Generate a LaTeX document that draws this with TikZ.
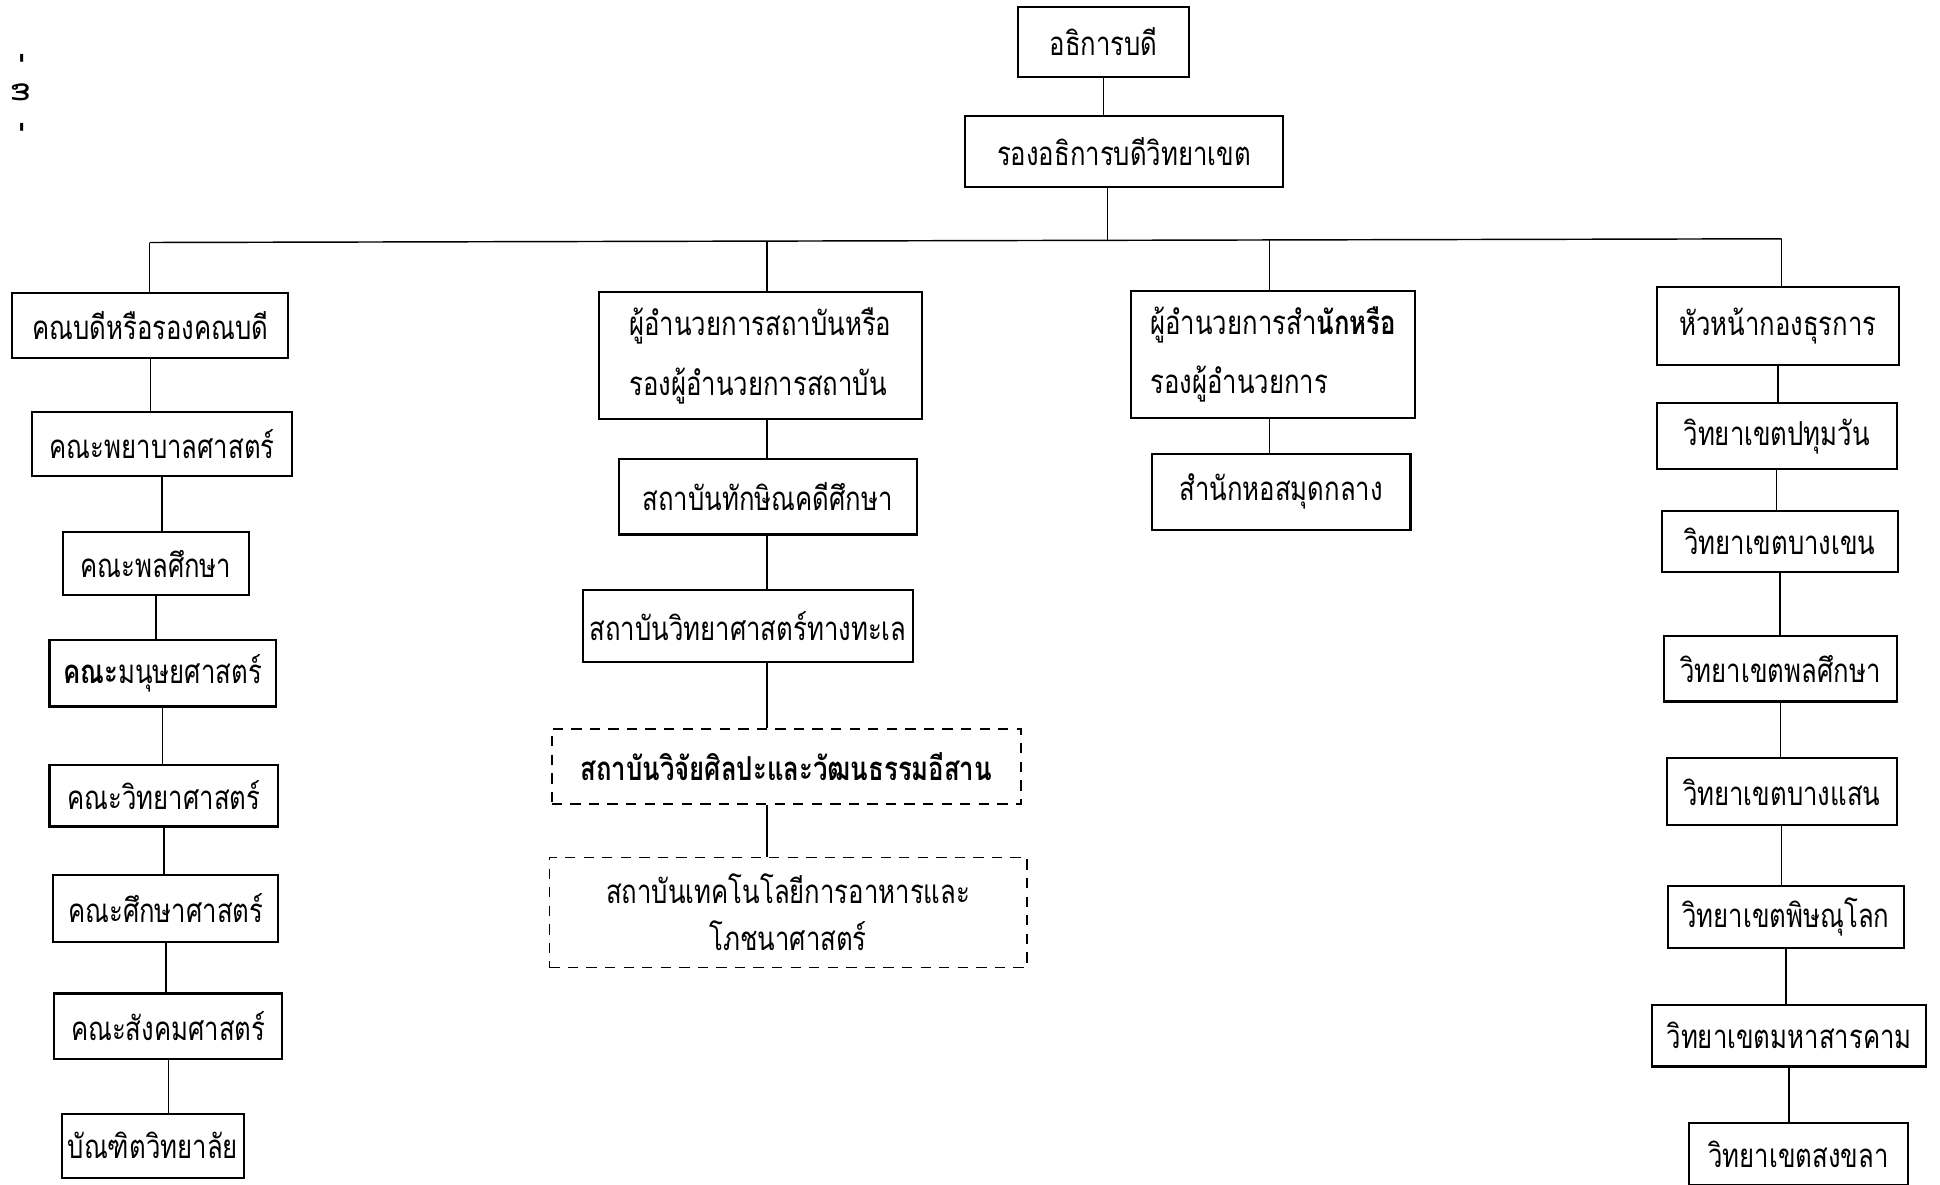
\documentclass[tikz,border=0pt]{standalone}
\usepackage{fontspec}
\setmainfont[Script=Thai,FakeStretch=0.78]{Loma}

\begin{document}
\begin{tikzpicture}[x=0.6pt,y=-0.6pt,
   poste/.style 2 args={draw,line width=1pt,inner sep=0pt,align=center,
     minimum width=#1*0.6pt,minimum height=#2*0.6pt,font=\fontsize{16}{29}\selectfont},
   poste prevu/.style 2 args={poste={#1}{#2},line width=0.8pt,dash pattern=on 5pt off 4pt},
   trait/.style={line width=0.7pt}]

  \useasboundingbox (0,0) rectangle (1568,957);

  % haut
  \node[poste={138}{56}] (r) at (892,34) {อธิการบดี};
  \node[poste={257}{57}] (v) at (908.5,122.5) {รองอธิการบดีวิทยาเขต};
  \node[rotate=-90,inner sep=1pt,font=\fontsize{18}{20}\selectfont] (folio) at (17,75) {-\ \ ๓\ \ -};

  \coordinate (bus) at (895,194);
  \coordinate (bL) at (121,196);
  \coordinate (bM) at (620,195);
  \coordinate (bT) at (1026,194);
  \coordinate (bR) at (1440,193);

  % facultes
  \node[poste={223}{52}] (k1) at (121.5,263) {คณบดีหรือรองคณบดี};
  \node[poste={210}{52}] (k2) at (131,359) {คณะพยาบาลศาสตร์};
  \node[poste={150}{51}] (k3) at (126,455.5) {คณะพลศึกษา};
  \node[poste={183}{54}] (k4) at (131.5,544) {\textbf{คณะ}มนุษยศาสตร์};
  \node[poste={185}{50}] (k5) at (132.5,643) {คณะวิทยาศาสตร์};
  \node[poste={182}{54}] (k6) at (134,734) {คณะศึกษาศาสตร์};
  \node[poste={184}{53}] (k7) at (136,829.5) {คณะสังคมศาสตร์};
  \node[poste={147}{52}] (k8) at (123.5,926) {บัณฑิตวิทยาลัย};

  % instituts
  \node[poste={261}{103},align=left] (s1) at (614.5,287.5) {ผู้อำนวยการสถาบันหรือ\\รองผู้อำนวยการสถาบัน};
  \node[poste={241}{61}] (s2) at (620.5,401.5) {สถาบันทักษิณคดีศึกษา};
  \node[poste={267}{58}] (s3) at (604.5,506) {สถาบันวิทยาศาสตร์ทางทะเล};
  \node[poste prevu={379}{61},font=\fontsize{16}{29}\bfseries] (s4) at (635.5,619.5) {สถาบันวิจัยศิลปะและวัฒนธรรมอีสาน};
  \node[poste prevu={386}{89},font=\fontsize{16}{23}\selectfont] (s5) at (637,737.5) {สถาบันเทคโนโลยีการอาหารและ\\โภชนาศาสตร์};

  % bureaux
  \node[poste={230}{103},align=left] (o1) at (1029,286.5) {ผู้อำนวยการสำ\textbf{นักหรือ}\\รองผู้อำนวยการ};
  \node[poste={209}{61}] (o2) at (1035.5,397.5) {สำนักหอสมุดกลาง};

  % campus
  \node[poste={196}{63}] (w1) at (1437,263.5) {หัวหน้ากองธุรการ};
  \node[poste={194}{53}] (w2) at (1436,352.5) {วิทยาเขตปทุมวัน};
  \node[poste={191}{49}] (w3) at (1438.5,437.5) {วิทยาเขตบางเขน};
  \node[poste={188}{53}] (w4) at (1439,540.5) {วิทยาเขตพลศึกษา};
  \node[poste={186}{54}] (w5) at (1440,640) {วิทยาเขตบางแสน};
  \node[poste={191}{50}] (w6) at (1443.5,741) {วิทยาเขตพิษณุโลก};
  \node[poste={222}{50}] (w7) at (1446,837) {วิทยาเขตมหาสารคาม};
  \node[poste={177}{50}] (w8) at (1453.5,933) {วิทยาเขตสงขลา};

  \draw[trait] (r.south) -- (r.south |- v.north);
  \draw[trait] (bus |- v.south) -- (bus);
  \draw[trait] (bL) -- (bR);
  \foreach \c/\n in {bL/k1,bM/s1,bT/o1,bR/w1} \draw[trait] (\c) -- (\c |- \n.north);
  \foreach \from/\to/\col in {k1/k2/k1,k2/k3/k2,k3/k4/k3,k4/k5/k4,k5/k6/k5,k6/k7/k6,k7/k8/k7,
      s1/s2/bM,s2/s3/bM,s3/s4/bM,s4/s5/bM,o1/o2/bT,
      w1/w2/w1,w2/w3/w2,w3/w4/w3,w4/w5/w4,w5/w6/w5,w6/w7/w6,w7/w8/w7}
    \draw[trait] (\from.south -| \col) -- (\to.north -| \col);
\end{tikzpicture}
\end{document}
